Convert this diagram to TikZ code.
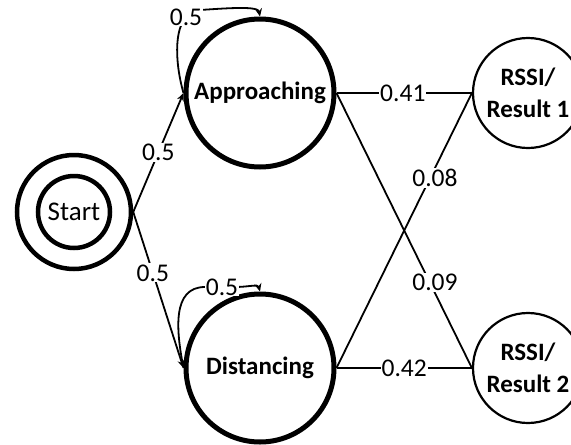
\documentclass[tikz,border=0pt]{standalone}
\usepackage{fontspec}
\setmainfont{Carlito}
\usetikzlibrary{arrows.meta}
\begin{document}
\begin{tikzpicture}[x=1pt,y=-1pt,
  state/.style={circle, draw, line width=5pt, minimum size=148pt, inner sep=0pt, font=\fontsize{25}{30}\selectfont\bfseries},
  result/.style={circle, draw, line width=2.2pt, minimum size=110pt, inner sep=0pt, align=center, font=\fontsize{25}{32}\selectfont\bfseries},
  ring/.style={circle, draw, line width=4.5pt, inner sep=0pt},
  edge/.style={line width=1.8pt},
  arr/.style={edge, -{Stealth[length=8pt,width=7pt]}},
  lbl/.style={fill=white, inner sep=1pt, font=\fontsize{25.5}{30}\selectfont}
]
\clip (0,0) rectangle (571,445);
\fill[white] (0,0) rectangle (571,445);
\node[ring, minimum size=72pt, font=\fontsize{27}{32}\selectfont] (start) at (74,212) {Start};
\node[ring, minimum size=114pt] (startouter) at (74,212) {};
\node[state] (A) at (260,93) {Approaching};
\node[state] (D) at (260,368) {Distancing};
\node[result] (R1) at (528,93) {RSSI/\\Result 1};
\node[result] (R2) at (528,368) {RSSI/\\Result 2};

\draw[arr] (startouter.east) -- node[lbl,pos=0.5] (sa) {0.5} (A.west);
\draw[arr] (startouter.east) -- node[lbl,pos=0.39] (sd) {0.5} (D.west);

\draw[arr] (A.west) .. controls (174,60) and (172,12) .. (200,10) .. controls (230,8) and (258,6) .. (A.north);
\node[lbl] (la) at (186,17) {0.5};
\draw[arr] (D.west) .. controls (176,330) and (172,287) .. (205,287) -- (235,287) .. controls (248,287) and (258,284) .. (D.north);
\node[lbl] (ld) at (222,287) {0.5};

\draw[edge] (A.east) -- node[lbl,pos=0.49] (a1) {0.41} (R1.west);
\draw[edge] (A.east) -- node[lbl,pos=0.69,xshift=5pt] (a2) {0.09} (R2.west);
\draw[edge] (D.east) -- node[lbl,pos=0.69,xshift=5pt] (d1) {0.08} (R1.west);
\draw[edge] (D.east) -- node[lbl,pos=0.5] (d2) {0.42} (R2.west);
\end{tikzpicture}
\end{document}
